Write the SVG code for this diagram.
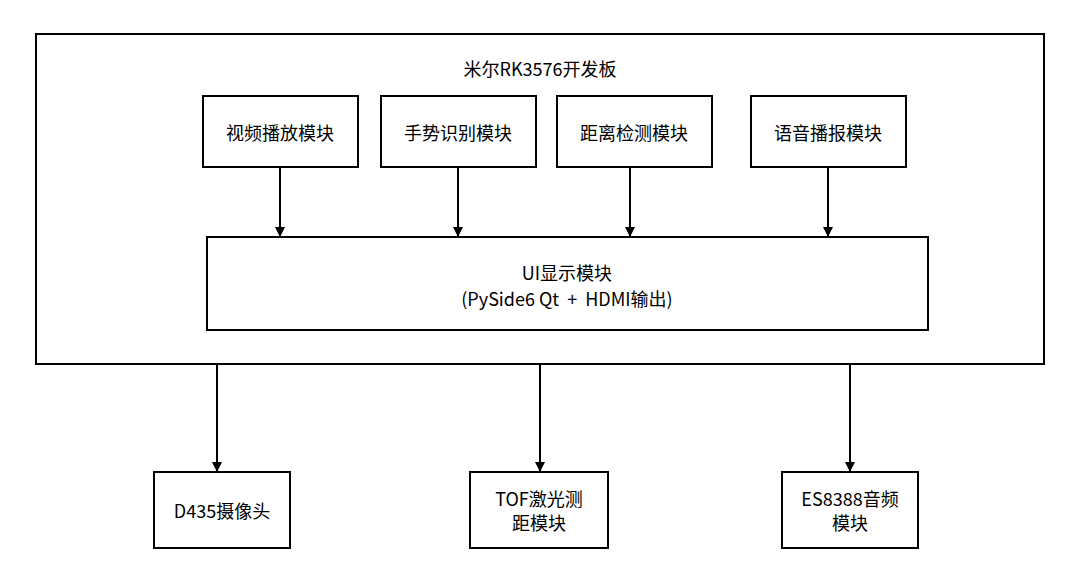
<svg xmlns="http://www.w3.org/2000/svg" width="1080" height="584" viewBox="0 0 1080 584">
<style>
rect{fill:#fff;stroke:#000;stroke-width:2}
text{font-family:"Noto Sans CJK SC","Noto Sans",sans-serif;font-size:18px;fill:#000;text-anchor:middle;dominant-baseline:central}
.c line{stroke:#000;stroke-width:2;marker-end:url(#a)}
</style>
<defs><marker id="a" markerWidth="10" markerHeight="10" refX="9" refY="5" orient="auto" markerUnits="userSpaceOnUse"><path d="M0,0 L10,5 L0,10 z" fill="#000"/></marker></defs>
<rect x="0" y="0" width="1080" height="584" style="stroke:none"/>
<g id="board"><rect x="36" y="34" width="1008" height="330"/><text x="540" y="68">米尔RK3576开发板</text></g>
<g id="video"><rect x="203" y="96" width="155" height="71"/><text x="280" y="132">视频播放模块</text></g>
<g id="gesture"><rect x="381" y="96" width="155" height="71"/><text x="458" y="132">手势识别模块</text></g>
<g id="dist"><rect x="557" y="96" width="155" height="71"/><text x="634" y="132">距离检测模块</text></g>
<g id="voice"><rect x="751" y="96" width="155" height="71"/><text x="828" y="132">语音播报模块</text></g>
<g id="ui"><rect x="207" y="237" width="721" height="93"/><text x="567" y="272">UI显示模块</text><text x="567" y="298" xml:space="preserve">(PySide6 Qt  +  HDMI输出)</text></g>
<g id="d435"><rect x="154" y="472" width="136" height="76"/><text x="222" y="510">D435摄像头</text></g>
<g id="tof"><rect x="470" y="472" width="138" height="76"/><text x="539" y="498">TOF激光测</text><text x="539" y="522">距模块</text></g>
<g id="es"><rect x="782" y="472" width="136" height="76"/><text x="850" y="498">ES8388音频</text><text x="850" y="522">模块</text></g>
<g class="c">
<line x1="280" y1="167" x2="280" y2="236"/>
<line x1="458" y1="167" x2="458" y2="236"/>
<line x1="630" y1="167" x2="630" y2="236"/>
<line x1="828" y1="167" x2="828" y2="236"/>
<line x1="217" y1="364" x2="217" y2="471"/>
<line x1="540" y1="364" x2="540" y2="471"/>
<line x1="850" y1="364" x2="850" y2="471"/>
</g>
</svg>
